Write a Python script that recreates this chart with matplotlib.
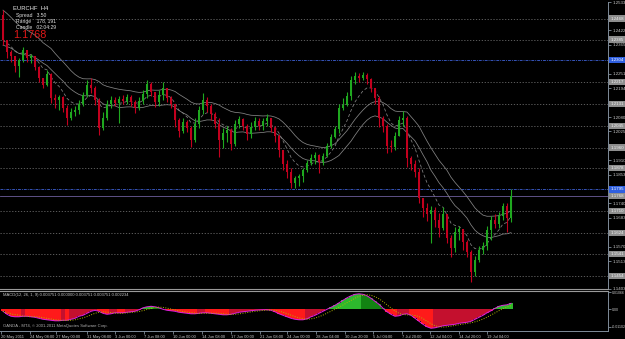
import numpy as np
import pandas as pd
import matplotlib
matplotlib.use("Agg")
import matplotlib.pyplot as plt
from matplotlib.transforms import blended_transform_factory

# ---------------- data ----------------
symbol_line = "EURCHF  H4"
info_lines = ["Spread   3.50", "Range    178, 191", "Candle   02:04:29"]
last_price_text = "1.1768"
macd_title = "MACD(12, 26, 1, 9) 0.003751 0.000000 0.003751 0.003751 0.002234"
copyright_text = "OANDA - MT4, \u00a9 2001-2011 MetaQuotes Software Corp."

first_open = 1.2481
closes = [1.2383, 1.2335, 1.2320, 1.2280, 1.2304, 1.2343, 1.2312, 1.2320,
          1.2276, 1.2233, 1.2206, 1.2249, 1.2154, 1.2147, 1.2158, 1.2115,
          1.2076, 1.2099, 1.2107, 1.2131, 1.2166, 1.2206, 1.2194, 1.2147,
          1.2036, 1.2076, 1.2131, 1.2147, 1.2135, 1.2150, 1.2143, 1.2158,
          1.2139, 1.2115, 1.2143, 1.2170, 1.2209, 1.2178, 1.2139, 1.2166,
          1.2194, 1.2154, 1.2131, 1.2068, 1.2025, 1.2060, 1.2036, 1.1989,
          1.2052, 1.2107, 1.2147, 1.2123, 1.2091, 1.2052, 1.1989, 1.2017,
          1.2028, 1.1973, 1.2052, 1.2072, 1.2044, 1.2013, 1.2040, 1.2064,
          1.2044, 1.2064, 1.2076, 1.2036, 1.2005, 1.1950, 1.1895, 1.1863,
          1.1820, 1.1840, 1.1847, 1.1871, 1.1899, 1.1918, 1.1930, 1.1903,
          1.1926, 1.1966, 1.2001, 1.2032, 1.2115, 1.2127, 1.2162, 1.2225,
          1.2241, 1.2233, 1.2245, 1.2229, 1.2194, 1.2154, 1.2076, 1.2044,
          1.1966, 1.1962, 1.2005, 1.2068, 1.2076, 1.1918, 1.1895, 1.1863,
          1.1761, 1.1722, 1.1698, 1.1714, 1.1674, 1.1643, 1.1698, 1.1604,
          1.1564, 1.1627, 1.1639, 1.1588, 1.1548, 1.1470, 1.1517, 1.1556,
          1.1572, 1.1635, 1.1674, 1.1659, 1.1690, 1.1729, 1.1682, 1.1768]
highs = [1.2501, 1.2375, 1.2343, 1.2320, 1.2312, 1.2355, 1.2343, 1.2328,
         1.2312, 1.2280, 1.2233, 1.2265, 1.2253, 1.2170, 1.2166, 1.2162,
         1.2127, 1.2115, 1.2123, 1.2147, 1.2178, 1.2225, 1.2233, 1.2202,
         1.2154, 1.2099, 1.2147, 1.2162, 1.2158, 1.2162, 1.2166, 1.2170,
         1.2166, 1.2147, 1.2158, 1.2186, 1.2225, 1.2217, 1.2178, 1.2186,
         1.2217, 1.2194, 1.2162, 1.2131, 1.2076, 1.2076, 1.2068, 1.2044,
         1.2076, 1.2123, 1.2174, 1.2158, 1.2131, 1.2099, 1.2076, 1.2036,
         1.2044, 1.2036, 1.2068, 1.2084, 1.2076, 1.2052, 1.2060, 1.2080,
         1.2076, 1.2076, 1.2091, 1.2076, 1.2044, 1.2013, 1.1950, 1.1910,
         1.1879, 1.1847, 1.1855, 1.1879, 1.1910, 1.1934, 1.1942, 1.1934,
         1.1938, 1.1977, 1.2013, 1.2044, 1.2131, 1.2154, 1.2178, 1.2241,
         1.2257, 1.2253, 1.2257, 1.2253, 1.2233, 1.2194, 1.2162, 1.2084,
         1.2052, 1.1989, 1.2021, 1.2084, 1.2103, 1.2084, 1.1926, 1.1910,
         1.1879, 1.1761, 1.1741, 1.1729, 1.1726, 1.1702, 1.1726, 1.1698,
         1.1615, 1.1647, 1.1651, 1.1635, 1.1596, 1.1556, 1.1533, 1.1572,
         1.1588, 1.1651, 1.1690, 1.1698, 1.1706, 1.1741, 1.1741, 1.1796]
lows = [1.2363, 1.2312, 1.2296, 1.2257, 1.2237, 1.2296, 1.2296, 1.2292,
        1.2265, 1.2217, 1.2194, 1.2202, 1.2135, 1.2115, 1.2107, 1.2099,
        1.2048, 1.2068, 1.2084, 1.2091, 1.2123, 1.2158, 1.2174, 1.2127,
        1.2009, 1.2028, 1.2068, 1.2115, 1.2123, 1.2056, 1.2131, 1.2131,
        1.2123, 1.2095, 1.2107, 1.2131, 1.2154, 1.2162, 1.2119, 1.2123,
        1.2147, 1.2139, 1.2115, 1.2040, 1.2001, 1.2017, 1.2021, 1.1962,
        1.1981, 1.2036, 1.2091, 1.2099, 1.2068, 1.2036, 1.1922, 1.1958,
        1.1981, 1.1950, 1.1966, 1.2036, 1.2028, 1.1989, 1.1997, 1.2028,
        1.2028, 1.2028, 1.2044, 1.2021, 1.1981, 1.1922, 1.1871, 1.1840,
        1.1800, 1.1800, 1.1808, 1.1824, 1.1863, 1.1891, 1.1895, 1.1859,
        1.1891, 1.1922, 1.1958, 1.1997, 1.2017, 1.2107, 1.2123, 1.2147,
        1.2209, 1.2217, 1.2225, 1.2209, 1.2178, 1.2131, 1.2040, 1.2021,
        1.1938, 1.1942, 1.1950, 1.2005, 1.2044, 1.1883, 1.1871, 1.1844,
        1.1741, 1.1686, 1.1670, 1.1584, 1.1647, 1.1607, 1.1635, 1.1584,
        1.1529, 1.1548, 1.1596, 1.1556, 1.1529, 1.1430, 1.1454, 1.1509,
        1.1541, 1.1556, 1.1596, 1.1643, 1.1643, 1.1674, 1.1627, 1.1666]

macd = [-0.00125, -0.00314, -0.00439, -0.00470, -0.00470, -0.00439, -0.00439, -0.00470,
        -0.00502, -0.00564, -0.00627, -0.00658, -0.00690, -0.00721, -0.00721, -0.00690,
        -0.00690, -0.00627, -0.00564, -0.00439, -0.00376, -0.00251, -0.00125, -0.00063,
        -0.00125, -0.00251, -0.00314, -0.00282, -0.00219, -0.00219, -0.00219, -0.00188,
        -0.00157, -0.00125, -0.00031, 0.00094, 0.00157, 0.00188, 0.00157, 0.00094,
        0.0, -0.00063, -0.00094, -0.00125, -0.00188, -0.00219, -0.00251, -0.00282,
        -0.00282, -0.00251, -0.00219, -0.00219, -0.00251, -0.00282, -0.00314, -0.00345,
        -0.00345, -0.00314, -0.00251, -0.00188, -0.00157, -0.00125, -0.00094, -0.00063,
        -0.00044, -0.00031, -0.00031, -0.00063, -0.00157, -0.00282, -0.00376, -0.00470,
        -0.00564, -0.00627, -0.00658, -0.00658, -0.00596, -0.00470, -0.00376, -0.00251,
        -0.00125, 0.0, 0.00125, 0.00251, 0.00408, 0.00564, 0.00721, 0.00846,
        0.00940, 0.00972, 0.00940, 0.00846, 0.00690, 0.00502, 0.00314, 0.00063,
        -0.00157, -0.00314, -0.00439, -0.00408, -0.00314, -0.00282, -0.00376, -0.00564,
        -0.00752, -0.00940, -0.01097, -0.01191, -0.01160, -0.01097, -0.01035, -0.01003,
        -0.00972, -0.00940, -0.00878, -0.00846, -0.00815, -0.00752, -0.00627, -0.00502,
        -0.00376, -0.00219, -0.00094, 0.00063, 0.00188, 0.00251, 0.00282, 0.00375]

level_prices = [1.2468, 1.2385, 1.2217, 1.2131, 1.2045, 1.1960, 1.1878,
                1.1710, 1.1624, 1.1541, 1.1454]
blue_levels = [1.2304, 1.1795]
bid_price = 1.1768
scale_prices = [1.2533, 1.2422, 1.2365, 1.2251, 1.2194, 1.2080, 1.2025,
                1.1910, 1.1853, 1.1740, 1.1683, 1.1570, 1.1513, 1.1403]

macd_scale_values = [0.01066, 0.0, -0.01102]
macd_scale_labels = ["0.01066", "0.00", "-0.01102"]

time_labels = ["20 May 2011", "24 May 08:00", "27 May 00:00", "31 May 08:00",
               "3 Jun 00:00", "7 Jun 08:00", "10 Jun 00:00", "14 Jun 08:00",
               "17 Jun 00:00", "21 Jun 08:00", "24 Jun 00:00", "28 Jun 04:00",
               "30 Jun 20:00", "5 Jul 04:00", "7 Jul 20:00", "12 Jul 04:00",
               "14 Jul 20:00", "19 Jul 04:00"]
time_tick_pos = [-0.5, 6.75, 13.25, 21.0, 28.0, 35.25, 42.5, 49.75, 57.0,
                 64.25, 71.0, 78.25, 85.5, 92.5, 99.75, 106.75, 114.0, 121.0]

# ---------------- figure ----------------
W, H = 625, 339
BG = "#000000"
FONT = "Liberation Sans"
AXC = "#7F8C99"
TXT = "#C8C8C8"

fig = plt.figure(figsize=(W / 100, H / 100), dpi=100, facecolor=BG)

def rect(x0, y0, x1, y1):
    return [x0 / W, 1 - y1 / H, (x1 - x0) / W, (y1 - y0) / H]

ax = fig.add_axes(rect(0, 2, 608, 289), facecolor=BG)
ax2 = fig.add_axes(rect(0, 291, 608, 331), facecolor=BG, sharex=ax)

n = len(closes)
x = np.arange(n)
o = np.array([first_open] + closes[:-1])
c = np.array(closes)
h = np.array(highs)
l = np.array(lows)
up = c >= o
UPC, DNC = "#1FA81F", "#C3001E"
cols = np.where(up, UPC, DNC)
top = np.maximum.reduce([h, o, c])
bot = np.minimum.reduce([l, o, c])

# levels / grid
for p in level_prices:
    ax.axhline(p, color="#6A6A6A", lw=0.6, ls=(0, (1.5, 2)), zorder=1)
for p in blue_levels:
    ax.axhline(p, color="#3553B8", lw=0.7, ls=(0, (3, 1, 1, 1)), zorder=1)
ax.axhline(bid_price, color="#6D5E9C", lw=0.6, zorder=1)

# moving averages
ema_hi = pd.Series(highs).ewm(span=18, adjust=False).mean()
ema_lo = pd.Series(lows).ewm(span=18, adjust=False).mean()
ema_fast = pd.Series(closes).ewm(span=7, adjust=False).mean()
ax.plot(x, ema_hi, color="#858585", lw=0.55, zorder=2)
ax.plot(x, ema_lo, color="#858585", lw=0.55, zorder=2)
ax.plot(x, ema_fast, color="#858585", lw=0.55, ls=(0, (4, 3)), zorder=2)

# candles
ax.vlines(x, bot, top, colors=cols, lw=0.8, zorder=3)
body = np.maximum(np.abs(c - o), 0.0002)
ax.bar(x, body, bottom=np.minimum(o, c), width=0.5, color=cols, zorder=3, linewidth=0)

ax.set_xlim(-0.75, 151.25)
ax.set_ylim(1.1403, 1.2532)

# right price scale
ax.yaxis.tick_right()
ax.set_yticks(scale_prices)
ax.set_yticklabels([f"{p:.4f}" for p in scale_prices])
ax.tick_params(axis="y", colors=AXC, length=2, width=0.6, pad=1.5,
               labelsize=3.2, labelcolor=TXT)
for t in ax.get_yticklabels():
    t.set_fontfamily(FONT)
ax.tick_params(axis="x", bottom=False, labelbottom=False)
for s in ["left", "top"]:
    ax.spines[s].set_visible(False)
ax.spines["right"].set_color(AXC)
ax.spines["right"].set_linewidth(0.7)
ax.spines["bottom"].set_color("#9A9A9A")
ax.spines["bottom"].set_linewidth(0.8)

trans = blended_transform_factory(ax.transAxes, ax.transData)
for p in level_prices:
    ax.text(1.004, p, f"{p:.4f}", transform=trans, fontsize=3.2, family=FONT,
            color="#F0F0F0", va="center", ha="left", clip_on=False, zorder=5,
            bbox=dict(boxstyle="square,pad=0.25", fc="#8E8E8E", ec="none"))
for p in blue_levels:
    ax.text(1.004, p, f"{p:.4f}", transform=trans, fontsize=3.2, family=FONT,
            color="#FFFFFF", va="center", ha="left", clip_on=False, zorder=5,
            bbox=dict(boxstyle="square,pad=0.25", fc="#2F5FE0", ec="none"))
ax.text(1.004, bid_price, f"{bid_price:.4f}", transform=trans, fontsize=3.2,
        family=FONT, color="#F0F0F0", va="center", ha="left", clip_on=False,
        zorder=5, bbox=dict(boxstyle="square,pad=0.25", fc="#8E8E8E", ec="none"))

# top-left info
ax.text(13 / 608, 1 - 4 / 287, symbol_line, transform=ax.transAxes, fontsize=4.2,
        family=FONT, color="#E8E8E8", va="top", ha="left")
for k, line in enumerate(info_lines):
    ax.text(16 / 608, 1 - (11 + 6 * k) / 287, line, transform=ax.transAxes,
            fontsize=3.6, family=FONT, color="#E0E0E0", va="top", ha="left")
ax.text(13 / 608, 1 - 28 / 287, last_price_text, transform=ax.transAxes,
        fontsize=7.8, family=FONT, color="#E01818", va="top", ha="left")

# ---------------- MACD ----------------
m = np.array(macd)
dm = np.diff(m, prepend=m[0])
hcols = np.where(m >= 0, np.where(dm >= 0, "#2DB82D", "#128212"),
                 np.where(dm <= 0, "#FF1A1A", "#C4102E"))
ax2.bar(x, m, width=1.0, color=hcols, linewidth=0, zorder=2)
ax2.plot(x, m, color="#E020E0", lw=0.7, zorder=3)
signal = pd.Series(macd).rolling(5, min_periods=1).mean()
ax2.plot(x, signal, color="#B4B400", lw=0.7, ls=(0, (1, 1.5)), zorder=4)
ax2.set_ylim(-0.01361, 0.01147)

ax2.yaxis.tick_right()
ax2.set_yticks(macd_scale_values)
ax2.set_yticklabels(macd_scale_labels)
ax2.tick_params(axis="y", colors=AXC, length=2, width=0.6, pad=1.0,
                labelsize=2.6, labelcolor=TXT)
ax2.set_xticks(time_tick_pos)
ax2.set_xticklabels(time_labels, ha="left")
ax2.tick_params(axis="x", colors=AXC, length=2, width=0.6, pad=0.8,
                labelsize=2.9, labelcolor=TXT)
for t in ax2.get_xticklabels() + ax2.get_yticklabels():
    t.set_fontfamily(FONT)
ax2.spines["left"].set_visible(False)
for s in ["right", "bottom"]:
    ax2.spines[s].set_color(AXC)
    ax2.spines[s].set_linewidth(0.7)
ax2.spines["top"].set_color("#9A9A9A")
ax2.spines["top"].set_linewidth(0.8)

ax2.text(3 / 608, 1 - 2 / 40, macd_title, transform=ax2.transAxes, fontsize=3.0,
         family=FONT, color="#C8C8C8", va="top", ha="left")
ax2.text(3 / 608, 3 / 40, copyright_text, transform=ax2.transAxes, fontsize=3.0,
         family=FONT, color="#B0B0B0", va="bottom", ha="left")

fig.savefig("out.png", dpi=100, facecolor=BG)
